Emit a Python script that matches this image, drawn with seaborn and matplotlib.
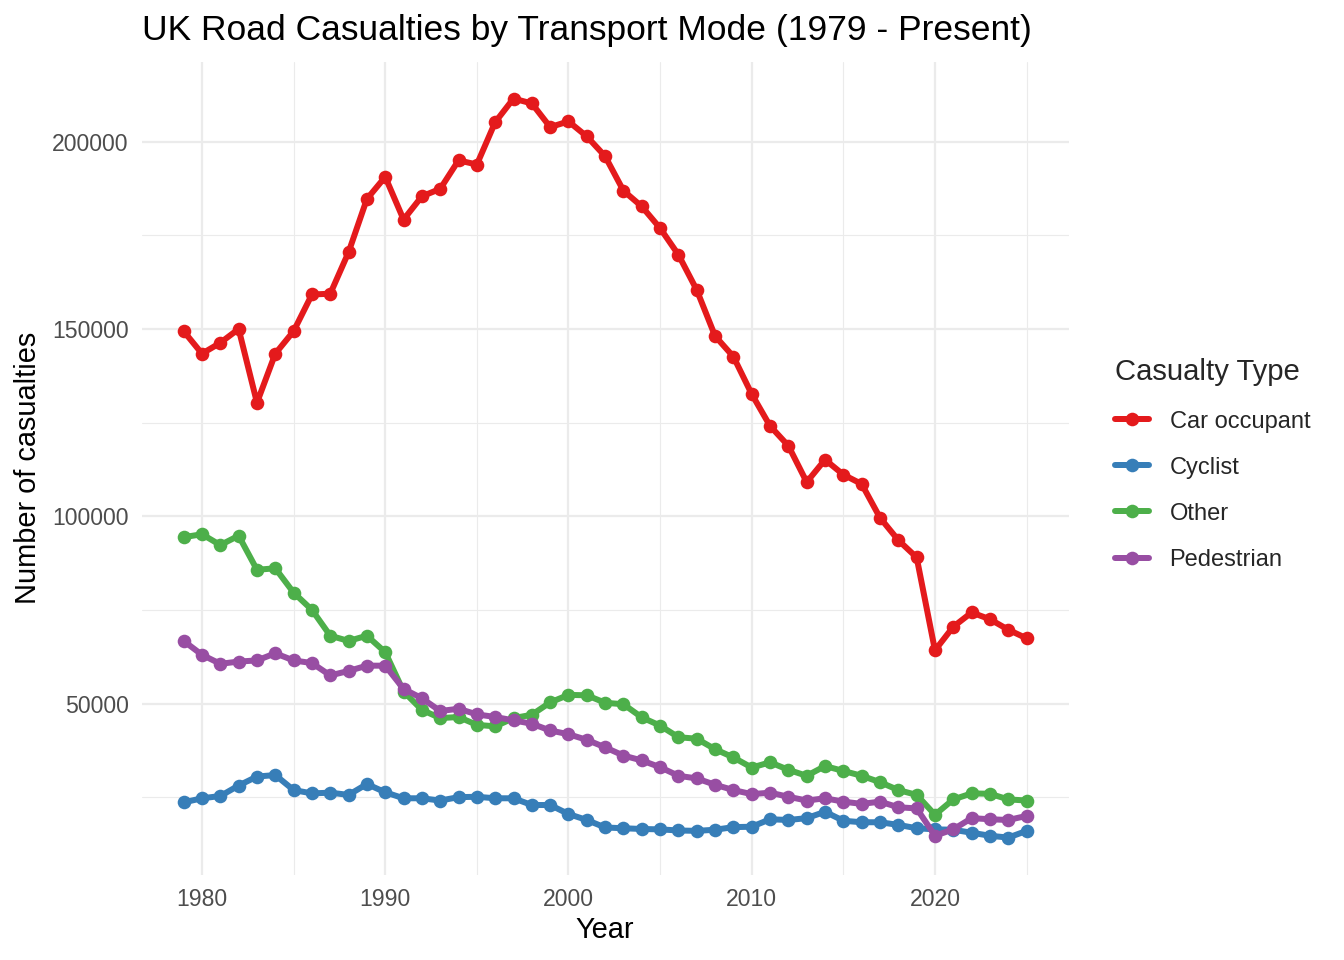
import matplotlib
matplotlib.use("Agg")
import matplotlib.pyplot as plt
from matplotlib.ticker import FuncFormatter, MultipleLocator
import pandas as pd
import seaborn as sns

years = list(range(1979, 2026))

car_occupant = [149400, 143400, 146300, 150000, 130300, 143400, 149400, 159200, 159400, 170500,
                184700, 190600, 179200, 185400, 187400, 195000, 193900, 205200, 211500, 210200,
                203900, 205400, 201400, 196100, 186900, 182700, 176900, 169800, 160400, 148100,
                142600, 132600, 124100, 118800, 109100, 115100, 111100, 108600, 99600, 93600,
                89000, 64200, 70500, 74300, 72500, 69700, 67400]
cyclist = [23600, 24700, 25300, 28100, 30500, 30900, 26900, 26000, 26200, 25600,
           28500, 26300, 24700, 24700, 24100, 25000, 25100, 24700, 24700, 22900,
           22900, 20500, 18900, 16900, 16700, 16500, 16400, 16100, 16000, 16300,
           17000, 17100, 19100, 18900, 19400, 21100, 18700, 18300, 18300, 17600,
           16700, 16400, 16300, 15500, 14700, 14200, 16000]
other = [94400, 95200, 92300, 94800, 85700, 86100, 79600, 75000, 68100, 66700,
         68100, 63700, 53200, 48300, 46100, 46400, 44300, 43900, 46100, 47000,
         50300, 52300, 52200, 50200, 49800, 46300, 44100, 41000, 40600, 37800,
         35600, 32900, 34300, 32300, 30700, 33300, 32000, 30700, 29000, 26900,
         25600, 20300, 24400, 26000, 25900, 24400, 24100]
pedestrian = [66700, 63000, 60600, 61200, 61500, 63400, 61500, 60800, 57500, 58700,
              60100, 60100, 53900, 51400, 48000, 48600, 47100, 46400, 45500, 44600,
              42800, 41800, 40300, 38300, 36100, 34800, 33000, 30700, 30000, 28300,
              26900, 25800, 26200, 25100, 24100, 24700, 23800, 23200, 23800, 22300,
              22000, 14700, 16400, 19400, 19100, 18900, 20000]

casualty_types = ["Car occupant", "Cyclist", "Other", "Pedestrian"]
colors = ["#E41A1C", "#377EB8", "#4DAF4A", "#984EA3"]

df = pd.DataFrame({
    "Year": years * 4,
    "Casualties": car_occupant + cyclist + other + pedestrian,
    "Casualty Type": [t for t in casualty_types for _ in years],
})

sns.set_theme(style="white")
plt.rcParams["font.family"] = ["Liberation Sans", "DejaVu Sans"]

fig = plt.figure(figsize=(1344 / 144, 960 / 144), dpi=144)
ax = fig.add_axes([0.1053, 0.0890, 0.6899, 0.8468])

sns.lineplot(data=df, x="Year", y="Casualties", hue="Casualty Type",
             hue_order=casualty_types, palette=colors, marker="o",
             markersize=6.8, markeredgewidth=0, linewidth=3.0, ax=ax)

# ggplot-like minimal theme
for s in ax.spines.values():
    s.set_visible(False)
ax.xaxis.set_major_locator(MultipleLocator(10))
ax.xaxis.set_minor_locator(MultipleLocator(5))
ax.yaxis.set_major_locator(MultipleLocator(50000))
ax.yaxis.set_minor_locator(MultipleLocator(25000))
ax.grid(which="major", color="#EBEBEB", linewidth=1.1)
ax.grid(which="minor", color="#EBEBEB", linewidth=0.55)
ax.set_axisbelow(True)
ax.tick_params(which="both", length=0, labelsize=11.5, labelcolor="#4D4D4D")
ax.tick_params(axis="y", pad=6.5)
ax.tick_params(axis="x", pad=6.5)
ax.yaxis.set_major_formatter(FuncFormatter(lambda v, p: f"{int(v)}"))

ax.set_xlabel("Year", fontsize=14.5, color="black", labelpad=2.5)
ax.set_ylabel("Number of casualties", fontsize=14.5, color="black", labelpad=5)
ax.set_title("UK Road Casualties by Transport Mode (1979 - Present)",
             loc="left", fontsize=17.7, color="black", pad=11)

handles, labels = ax.get_legend_handles_labels()
ax.get_legend().remove()
leg = fig.legend(handles, labels, title="Casualty Type", loc="center left",
                 bbox_to_anchor=(1094 / 1344, 0.516), frameon=False,
                 fontsize=11.8, title_fontsize=14.6, handlelength=1.45,
                 handletextpad=0.85, labelspacing=1.02, numpoints=1)
leg._legend_box.align = "left"

fig.savefig("out.png", dpi=144)
